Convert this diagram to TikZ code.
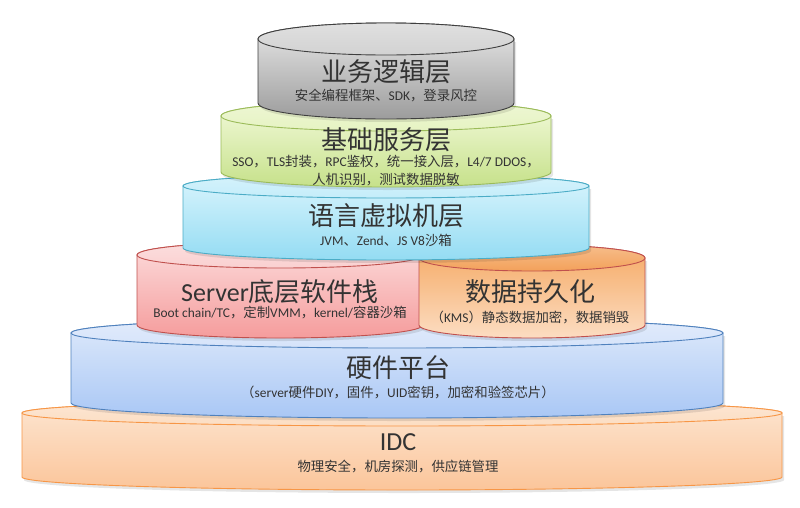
\documentclass[tikz,border=0pt]{standalone}
\usepackage{fontspec}
\setmainfont{Carlito}
\newfontfamily\zhfont{Noto Sans CJK SC}
\newcommand{\zh}[1]{{\zhfont #1}}
\definecolor{grayO}{HTML}{3F3F3F}\definecolor{grayT}{HTML}{E8E8E8}\definecolor{grayB}{HTML}{9C9C9C}\definecolor{grayF}{HTML}{D2D2D2}
\definecolor{grnO}{HTML}{9BBB59}\definecolor{grnT}{HTML}{F3FADC}\definecolor{grnB}{HTML}{C6E18A}\definecolor{grnF}{HTML}{E6F3C2}
\definecolor{cyaO}{HTML}{4BACC6}\definecolor{cyaT}{HTML}{DBF5FD}\definecolor{cyaB}{HTML}{94DCF3}\definecolor{cyaF}{HTML}{C4EDFA}
\definecolor{redO}{HTML}{C0504D}\definecolor{redT}{HTML}{FCDCDC}\definecolor{redB}{HTML}{F59C9C}\definecolor{redF}{HTML}{FAD0D0}
\definecolor{orgO}{HTML}{C0504D}\definecolor{orgT}{HTML}{F5A964}\definecolor{orgB}{HTML}{FCDDC2}\definecolor{orgF}{HTML}{F3A15A}
\definecolor{bluO}{HTML}{4F81BD}\definecolor{bluT}{HTML}{DFEAFB}\definecolor{bluB}{HTML}{A9C7F5}\definecolor{bluF}{HTML}{D5E3FA}
\definecolor{idcO}{HTML}{F79646}\definecolor{idcT}{HTML}{FDE6D2}\definecolor{idcB}{HTML}{FBC59A}\definecolor{idcF}{HTML}{FCDDC2}
\definecolor{ttl}{HTML}{333333}\definecolor{sub}{HTML}{333333}
% cx, yc, rx, ry, h, outline, body top, body bottom, face
\newcommand{\drawcyl}[9]{%
  \fill[black,opacity=0.10] (#1-#3+2,-#2-3) -- ++(0,-#5) arc[start angle=180,end angle=360,x radius=#3,y radius=#4] -- ++(0,#5) -- cycle;
  \path[draw=#6,line width=0.9pt,top color=#7,bottom color=#8]
    (#1-#3,-#2) -- ++(0,-#5) arc[start angle=180,end angle=360,x radius=#3,y radius=#4]
    -- ++(0,#5) arc[start angle=0,end angle=180,x radius=#3,y radius=#4] -- cycle;
  \path[draw=#6,line width=0.9pt,top color=#9!70!white,bottom color=#9] (#1,-#2) ellipse[x radius=#3,y radius=#4];
}
\tikzset{
  title/.style={text=ttl,font=\fontsize{26}{29}\selectfont,inner sep=0pt,anchor=center},
  subt/.style={text=sub,font=\fontsize{13.4}{18}\selectfont,inner sep=0pt,anchor=center,align=center}
}
\begin{document}
\begin{tikzpicture}[x=1pt,y=1pt]
\useasboundingbox (0,0) rectangle (800,-507);
\fill[white] (0,0) rectangle (800,-507);
\drawcyl{402}{413}{380}{13}{64}{idcO}{idcT}{idcB}{idcF}
\drawcyl{397}{333}{326}{15}{70}{bluO}{bluT}{bluB}{bluF}
\drawcyl{280}{255}{143}{13}{70}{redO}{redT}{redB}{redF}
\drawcyl{532}{258}{113}{13}{67}{orgO}{orgT}{orgB}{orgF}
\drawcyl{386}{186}{203}{12}{62}{cyaO}{cyaT}{cyaB}{cyaF}
\drawcyl{386}{116}{165}{15}{56}{grnO}{grnT}{grnB}{grnF}
\drawcyl{386}{39}{128}{16}{64}{grayO}{grayT}{grayB}{grayF}

\node[title] (t1) at (386,-72) {\zh{业务逻辑层}};
\node[subt] (s1) at (386,-96) {\zh{安全编程框架、}SDK\zh{，登录风控}};
\node[title] (t2) at (386,-140) {\zh{基础服务层}};
\node[subt] (s2) at (386,-171) {SSO\zh{，}TLS\zh{封装，}RPC\zh{鉴权，统一接入层，}L4/7 DDOS\zh{，}\\\zh{人机识别，测试数据脱敏}};
\node[title] (t3) at (386,-216) {\zh{语言虚拟机层}};
\node[subt] (s3) at (386,-240) {JVM\zh{、}Zend\zh{、}JS V8\zh{沙箱}};
\node[title] (t4) at (280,-292) {Server\zh{底层软件栈}};
\node[subt] (s4) at (280,-313) {Boot chain/TC\zh{，定制}VMM\zh{，}kernel/\zh{容器沙箱}};
\node[title] (t5) at (530,-292) {\zh{数据持久化}};
\node[subt] (s5) at (530,-317) {\zh{（}KMS\zh{）静态数据加密，数据销毁}};
\node[title] (t6) at (398,-368) {\zh{硬件平台}};
\node[subt] (s6) at (398,-392) {\zh{（}server\zh{硬件}DIY\zh{，固件，}UID\zh{密钥，加密和验签芯片）}};
\node[title] (t7) at (398,-442) {IDC};
\node[subt] (s7) at (398,-467) {\zh{物理安全，机房探测，供应链管理}};
\end{tikzpicture}
\end{document}
